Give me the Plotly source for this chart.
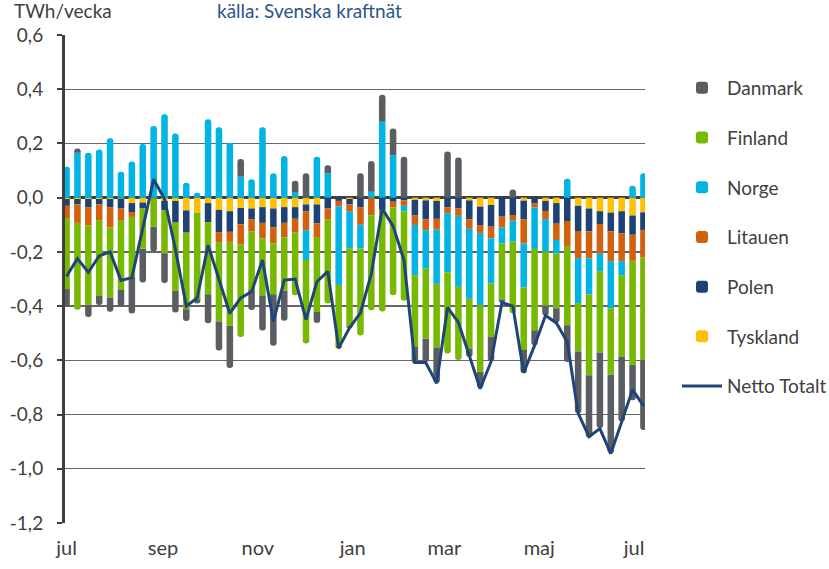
import datetime as dt
import plotly.graph_objects as go

# ---- data ----
start = dt.date(2022, 7, 1)
weeks = [(start + dt.timedelta(days=7 * i)).isoformat() for i in range(54)]

tyskland = [-0.005, -0.005, -0.005, -0.005, -0.005, -0.004, -0.02, -0.018, -0.003, -0.012,
            -0.012, -0.047, -0.055, -0.02, -0.045, -0.05, -0.038, -0.04, -0.035, -0.04,
            -0.035, -0.035, -0.025, -0.025, 0.0, 0.0, -0.005, 0.0, 0.0, 0.0,
            0.0, 0.0, -0.008, -0.01, -0.012, 0.0, 0.0, -0.01, -0.033, -0.027,
            0.0, 0.0, -0.011, 0.0, -0.012, -0.02, 0.0, -0.03, -0.04, -0.05,
            -0.055, -0.05, -0.066, -0.054]
polen = [-0.025, -0.02, -0.03, -0.02, -0.03, -0.036, -0.033, -0.022, 0.0, -0.034,
         -0.08, -0.082, 0.0, -0.07, -0.082, -0.076, -0.06, -0.04, -0.058, -0.07,
         -0.058, -0.043, -0.025, -0.07, -0.04, -0.012, -0.02, -0.035, 0.0, -0.045,
         -0.015, -0.01, -0.058, -0.07, -0.066, -0.035, -0.04, -0.07, -0.068, -0.08,
         -0.07, -0.064, -0.069, -0.02, -0.037, -0.076, -0.086, -0.093, -0.084, -0.047,
         -0.069, -0.082, -0.071, -0.065]
litauen = [-0.045, -0.068, -0.068, -0.058, -0.075, -0.045, -0.018, 0.0, 0.0, 0.0,
           0.0, 0.0, 0.0, 0.0, -0.037, -0.037, -0.074, -0.045, -0.057, -0.058,
           -0.053, -0.05, -0.07, -0.05, -0.04, -0.02, -0.027, -0.065, -0.065, 0.0,
           -0.02, -0.02, -0.035, -0.04, -0.04, -0.022, -0.027, -0.035, -0.03, -0.043,
           -0.04, -0.021, -0.089, -0.016, -0.03, -0.06, -0.095, -0.1, -0.1, -0.11,
           -0.11, -0.102, -0.096, -0.102]
norge = [0.114, 0.166, 0.166, 0.178, 0.219, 0.096, 0.133, 0.198, 0.264, 0.308,
         0.237, 0.055, 0.018, 0.289, 0.26, 0.203, 0.077, 0.068, 0.26, 0.09,
         0.154, 0.018, -0.11, 0.151, 0.09, -0.29, -0.135, -0.088, 0.022, 0.28,
         0.157, -0.02, -0.185, -0.142, -0.2, -0.218, -0.262, -0.258, -0.265, -0.166,
         -0.059, -0.077, -0.162, -0.153, -0.12, -0.05, 0.07, -0.166, -0.133, -0.064,
         -0.175, -0.052, 0.044, 0.09]
finland = [-0.262, -0.32, -0.292, -0.28, -0.258, -0.255, -0.221, -0.148, -0.104, -0.159,
           -0.252, -0.283, -0.32, -0.266, -0.293, -0.31, -0.342, -0.215, -0.211, -0.188,
           -0.197, -0.232, -0.308, -0.277, -0.31, -0.225, -0.285, -0.32, -0.35, -0.375,
           -0.325, -0.33, -0.265, -0.258, -0.236, -0.3, -0.27, -0.185, -0.246, -0.197,
           -0.207, -0.264, -0.231, -0.3, -0.2, -0.202, -0.29, -0.178, -0.298, -0.3,
           -0.244, -0.3, -0.384, -0.378]
danmark = [-0.066, 0.015, -0.045, -0.033, -0.053, -0.063, -0.135, -0.125, -0.092, -0.11,
           -0.08, -0.043, -0.015, -0.107, -0.107, -0.155, 0.066, -0.074, -0.129, -0.19,
           -0.111, 0.044, 0.09, -0.04, 0.03, -0.01, -0.01, 0.09, 0.113, 0.1,
           0.098, 0.151, -0.06, -0.086, -0.13, 0.17, 0.148, -0.03, -0.06, -0.09,
           -0.012, 0.03, -0.086, -0.055, -0.036, -0.052, -0.135, -0.228, -0.23, -0.279,
           -0.29, -0.24, -0.13, -0.258]
netto = [-0.29, -0.225, -0.275, -0.215, -0.2, -0.305, -0.295, -0.115, 0.068, -0.005,
         -0.19, -0.4, -0.37, -0.175, -0.305, -0.427, -0.37, -0.347, -0.23, -0.457,
         -0.304, -0.3, -0.45, -0.31, -0.272, -0.555, -0.48, -0.425, -0.28, -0.04,
         -0.105, -0.23, -0.608, -0.608, -0.685, -0.405, -0.46, -0.58, -0.705, -0.605,
         -0.387, -0.4, -0.646, -0.545, -0.435, -0.462, -0.532, -0.795, -0.882, -0.852,
         -0.944, -0.827, -0.708, -0.768]

month_vals = ["2022-07-01", "2022-09-01", "2022-11-01", "2023-01-01",
              "2023-03-01", "2023-05-01", "2023-07-01"]
month_text = ["jul", "sep", "nov", "jan", "mar", "maj", "jul"]
y_vals = [0.6, 0.4, 0.2, 0.0, -0.2, -0.4, -0.6, -0.8, -1.0, -1.2]
y_text = ["0,6", "0,4", "0,2", "0,0", "-0,2", "-0,4", "-0,6", "-0,8", "-1,0", "-1,2"]

series = [
    ("Tyskland", tyskland, "#FFC000", 6),
    ("Polen", polen, "#1E4276", 5),
    ("Litauen", litauen, "#D2600C", 4),
    ("Norge", norge, "#00B4E4", 3),
    ("Finland", finland, "#77B800", 2),
    ("Danmark", danmark, "#5A5E62", 1),
]

FONT = "Lato, 'Open Sans', sans-serif"
TXT = "#404040"

fig = go.Figure()
for name, vals, color, rank in series:
    fig.add_trace(go.Bar(
        x=weeks, y=vals, name=name, marker=dict(color=color, line=dict(width=0)),
        legendrank=rank, legendgroup=name,
    ))
fig.add_trace(go.Scatter(
    x=weeks, y=netto, name="Netto Totalt", mode="lines",
    line=dict(color="#1F4477", width=3), legendrank=7, legendgroup="netto",
))

L, R, T, B = 65, 184, 35, 46
W, H = 829, 569
pw, ph = W - L - R, H - T - B

def px_x(p):
    return (p - L) / pw

def px_y(p):
    return (H - B - p) / ph

fig.update_layout(
    width=W, height=H,
    margin=dict(l=L, r=R, t=T, b=B, pad=0, autoexpand=False),
    paper_bgcolor="white", plot_bgcolor="white",
    barmode="relative", bargap=0.4, barcornerradius=3,
    font=dict(family=FONT, color=TXT, size=19),
    legend=dict(
        x=px_x(677), y=px_y(69), xanchor="left", yanchor="top",
        font=dict(size=19, color=TXT, family=FONT),
        tracegroupgap=22, itemwidth=40, bgcolor="rgba(0,0,0,0)",
    ),
    showlegend=True,
    xaxis=dict(
        type="date", range=["2022-06-30", "2023-07-08"],
        tickvals=month_vals, ticktext=month_text,
        showgrid=False, zeroline=False, ticks="",
        showline=False, automargin=False,
        tickfont=dict(size=20, color=TXT, family=FONT),
        ticklabelstandoff=11,
    ),
    yaxis=dict(
        range=[-1.2, 0.6], tickvals=y_vals, ticktext=y_text,
        showgrid=True, gridcolor="#666666", gridwidth=1.3,
        zeroline=True, zerolinecolor="#404040", zerolinewidth=2.5,
        showline=True, linecolor="#404040", linewidth=3,
        ticks="outside", ticklen=5, tickwidth=2, tickcolor="#404040",
        tickfont=dict(size=19, color=TXT, family=FONT),
        ticklabelstandoff=10, automargin=False,
    ),
    annotations=[
        dict(text="TWh/vecka", xref="paper", yref="paper", x=px_x(63), y=px_y(11),
             xanchor="center", yanchor="middle", showarrow=False,
             font=dict(size=19, color=TXT, family=FONT)),
        dict(text="källa: Svenska kraftnät", xref="paper", yref="paper", x=px_x(309), y=px_y(11),
             xanchor="center", yanchor="middle", showarrow=False,
             font=dict(size=19, color="#2B5487", family=FONT)),
    ],
)

fig.write_html(
    "out.html",
    config={"displayModeBar": False, "staticPlot": True},
    post_script="document.body.style.margin='0';document.body.style.overflow='hidden';",
)
